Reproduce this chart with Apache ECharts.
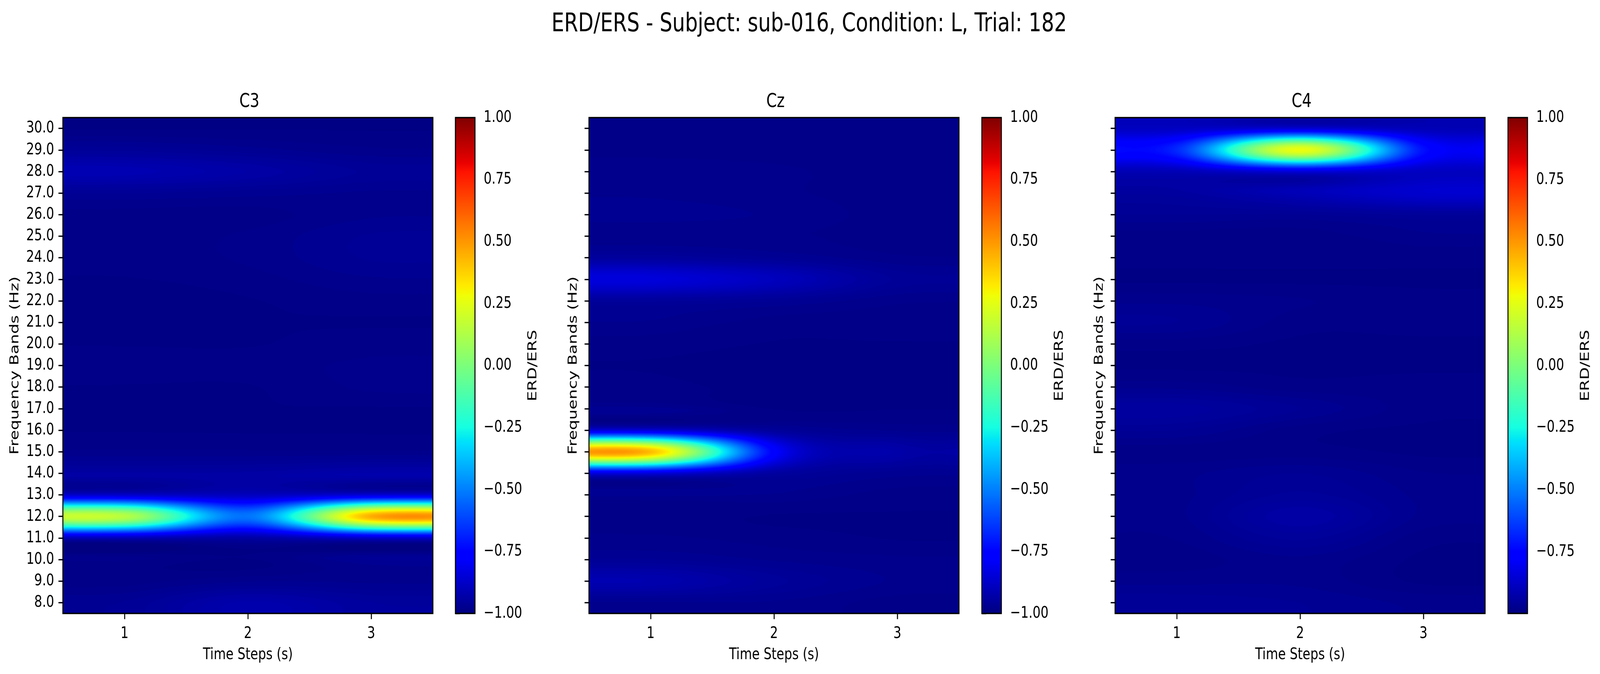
<!DOCTYPE html>
<html><head><meta charset="utf-8">
<style>html,body{margin:0;padding:0;background:#fff;overflow:hidden}#c{width:5319px;height:1725px;transform-origin:0 0}</style>
<script src="https://cdn.jsdelivr.net/npm/echarts@6/dist/echarts.min.js"></script>
</head><body><div id="c"></div>
<script>
// Values, indexed by frequency band (8 -> 30 Hz).
const timeSteps = [1, 2, 3];
const freqBands = [8,9,10,11,12,13,14,15,16,17,18,19,20,21,22,23,24,25,26,27,28,29,30];
const cbTicks = [-1,-0.75,-0.5,-0.25,0,0.25,0.5,0.75,1];
const cbTicksC4 = [-0.75,-0.5,-0.25,0,0.25,0.5,0.75,1];

const c3T1 = [-.96,-.98,-.975,-.9,.14,-.87,-.935,-.975,-.985,-.99,-.985,-.98,-.985,-.99,-.99,-.985,-.98,-.98,-.98,-.96,-.91,-.955,-.985];
const c3T2 = [-.92,-.97,-.985,-.93,-.52,-.89,-.935,-.975,-.985,-.985,-.985,-.98,-.985,-.985,-.985,-.98,-.975,-.975,-.98,-.965,-.93,-.965,-.985];
const c3T3 = [-.945,-.97,-.96,-.87,.45,-.85,-.92,-.975,-.985,-.985,-.975,-.975,-.98,-.985,-.98,-.97,-.96,-.96,-.97,-.97,-.955,-.975,-.985];

const czT1 = [-.97,-.915,-.96,-.975,-.98,-.965,-.84,.42,-.85,-.965,-.98,-.985,-.98,-.97,-.95,-.84,-.945,-.975,-.965,-.97,-.97,-.98,-.98];
const czT2 = [-.97,-.95,-.97,-.98,-.985,-.97,-.94,-.76,-.95,-.985,-.99,-.99,-.985,-.98,-.96,-.89,-.96,-.975,-.97,-.975,-.975,-.98,-.98];
const czT3 = [-.98,-.97,-.975,-.985,-.985,-.98,-.965,-.925,-.97,-.985,-.99,-.99,-.985,-.98,-.975,-.955,-.975,-.98,-.98,-.98,-.98,-.98,-.98];

const c4T1 = [-.955,-.97,-.98,-.975,-.97,-.97,-.97,-.98,-.96,-.94,-.97,-.985,-.98,-.96,-.97,-.985,-.98,-.98,-.96,-.94,-.9,-.67,-.88];
const c4T2 = [-.96,-.97,-.97,-.95,-.93,-.95,-.96,-.98,-.98,-.96,-.98,-.985,-.985,-.98,-.975,-.985,-.98,-.98,-.96,-.9,-.84,.27,-.85];
const c4T3 = [-.97,-.985,-.985,-.98,-.97,-.97,-.975,-.985,-.985,-.98,-.98,-.985,-.985,-.98,-.98,-.985,-.98,-.97,-.95,-.86,-.88,-.72,-.9];

const panels = [
  {name:'C3', rows:[c3T1,c3T2,c3T3], vmin:-1, ticks:cbTicks, left:209, cbLeft:1514, showY:true, yGap:138},
  {name:'Cz', rows:[czT1,czT2,czT3], vmin:-1, ticks:cbTicks, left:1958, cbLeft:3264, showY:false, yGap:31},
  {name:'C4', rows:[c4T1,c4T2,c4T3], vmin:-0.999, ticks:cbTicksC4, left:3707, cbLeft:5013, showY:false, yGap:31}
];

const FONT = 'DejaVu Sans';
const FS = 41.67, LW = 3.33, TL = 14.6, TOP = 301, H = 1269, W = 1230, CBW = 65;

// The browser window may be narrower than the reference: fit the full layout to it.
const host = document.getElementById('c');
host.style.transform = 'scaleX(' + (Math.min(window.innerWidth, 5319) / 5319) + ')';

// matplotlib "jet" breakpoints
const jetR=[[0,0],[.35,0],[.66,1],[.89,1],[1,.5]];
const jetG=[[0,0],[.125,0],[.375,1],[.64,1],[.91,0],[1,0]];
const jetB=[[0,.5],[.11,1],[.34,1],[.65,0],[1,0]];
function seg(s,t){for(let i=1;i<s.length;i++){if(t<=s[i][0]){const a=s[i-1],b=s[i];return a[1]+(b[1]-a[1])*(t-a[0])/(b[0]-a[0]);}}return s[s.length-1][1];}
const LUT=[];for(let i=0;i<256;i++){const t=i/255;LUT.push([Math.round(seg(jetR,t)*255),Math.round(seg(jetG,t)*255),Math.round(seg(jetB,t)*255)]);}

// Display-time bicubic resampling of the cell values (what imshow does when it draws).
function kern(x){x=Math.abs(x);if(x<1)return 1.5*x*x*x-2.5*x*x+1;if(x<2)return -.5*x*x*x+2.5*x*x-4*x+2;return 0;}
function sample(rows,u,v){
  const iu=Math.floor(u),iv=Math.floor(v);let s=0;
  for(let a=-1;a<=2;a++){const tu=Math.min(rows.length-1,Math.max(0,iu+a)),wu=kern(u-(iu+a));if(!wu)continue;
    for(let b=-1;b<=2;b++){const fv=Math.min(freqBands.length-1,Math.max(0,iv+b)),wv=kern(v-(iv+b));if(!wv)continue;s+=wu*wv*rows[tu][fv];}}
  return s;
}
function cellRender(p){
  return function(params,api){
    const t=api.value(0),f=api.value(1);
    const a=api.coord([t-.5,f+.5]),b=api.coord([t+.5,f-.5]);
    const x0=Math.round(a[0]),y0=Math.round(a[1]),x1=Math.round(b[0]),y1=Math.round(b[1]);
    const c=document.createElement('canvas');c.width=x1-x0;c.height=y1-y0;
    const g=c.getContext('2d'),img=g.createImageData(c.width,c.height),d=img.data;
    const sx=(b[0]-a[0]),sy=(b[1]-a[1]);
    let k=0;
    for(let py=0;py<c.height;py++){
      const fv=(f-freqBands[0])+0.5-(py+.5+(y0-a[1]))/sy;
      for(let px=0;px<c.width;px++){
        const tu=(t-timeSteps[0])-0.5+(px+.5+(x0-a[0]))/sx;
        const val=sample(p.rows,tu,fv);
        let n=(val-p.vmin)/(1-p.vmin);n=Math.max(0,Math.min(1,n));
        const col=LUT[Math.min(255,Math.floor(n*256))];
        d[k++]=col[0];d[k++]=col[1];d[k++]=col[2];d[k++]=255;
      }
    }
    g.putImageData(img,0,0);
    return {type:'image',silent:true,style:{image:c,x:x0,y:y0,width:c.width,height:c.height}};
  };
}
function frameRender(params){
  const c=params.coordSys;
  return {type:'rect',silent:true,shape:{x:c.x,y:c.y,width:c.width,height:c.height},
    style:{fill:'none',stroke:'#000',lineWidth:LW}};
}
function cbRender(p){
  return function(params){
    const c=params.coordSys,st=[];
    const all=[...new Set([...jetR,...jetG,...jetB].map(s=>s[0]))].sort((a,b)=>a-b);
    all.forEach(t=>st.push({offset:t,color:`rgb(${Math.round(seg(jetR,t)*255)},${Math.round(seg(jetG,t)*255)},${Math.round(seg(jetB,t)*255)})`}));
    return {type:'rect',silent:true,shape:{x:c.x,y:c.y,width:c.width,height:c.height},
      style:{fill:new echarts.graphic.LinearGradient(0,1,0,0,st)}};
  };
}
const tickLine={show:true,length:TL,lineStyle:{color:'#000',width:LW}};
const txt={color:'#000',fontFamily:FONT,fontSize:FS};
const fmtMinus=v=>v.toFixed(2).replace('-','\u2212');

const grid=[],xAxis=[],yAxis=[],series=[],title=[];
title.push({text:'ERD/ERS - Subject: sub-016, Condition: L, Trial: 182',left:2685,top:24,textAlign:'center',
  textStyle:{color:'#000',fontFamily:FONT,fontSize:66.67,fontWeight:'normal'}});
panels.forEach((p,i)=>{
  title.push({text:p.name,left:p.left+W/2,top:231,textAlign:'center',
    textStyle:{color:'#000',fontFamily:FONT,fontSize:50,fontWeight:'normal'}});
  const gi=grid.length;
  grid.push({left:p.left,top:TOP,width:W,height:H,containLabel:false,outerBoundsMode:'none'});
  xAxis.push({gridIndex:gi,type:'value',min:.5,max:3.5,splitLine:{show:false},axisLine:{show:false},
    axisTick:{...tickLine,customValues:timeSteps},
    axisLabel:{...txt,margin:31,customValues:timeSteps,formatter:v=>String(v),hideOverlap:false},
    name:'Time Steps (s)',nameLocation:'middle',nameGap:85,nameTextStyle:txt});
  yAxis.push({gridIndex:gi,type:'value',min:7.5,max:30.5,splitLine:{show:false},axisLine:{show:false},
    axisTick:{...tickLine,customValues:freqBands},
    axisLabel:{...txt,show:p.showY,margin:29,customValues:freqBands,formatter:v=>v.toFixed(1),hideOverlap:false},
    name:'Frequency Bands (Hz)',nameLocation:'middle',nameGap:p.yGap,nameRotate:90,nameTextStyle:txt});
  const data=[];
  timeSteps.forEach((t,ti)=>freqBands.forEach((f,fi)=>data.push([t,f,p.rows[ti][fi]])));
  series.push({type:'custom',name:p.name,xAxisIndex:gi,yAxisIndex:gi,renderItem:cellRender(p),data,
    encode:{x:0,y:1},clip:true,animation:false,silent:true,z:2});
  series.push({type:'custom',xAxisIndex:gi,yAxisIndex:gi,renderItem:frameRender,data:[[1,8]],
    encode:{x:0,y:1},clip:false,animation:false,silent:true,z:3});
  const ci=grid.length;
  grid.push({left:p.cbLeft,top:TOP,width:CBW,height:H,containLabel:false,outerBoundsMode:'none'});
  xAxis.push({gridIndex:ci,type:'value',min:0,max:1,show:false});
  yAxis.push({gridIndex:ci,type:'value',position:'right',min:p.vmin,max:1,splitLine:{show:false},axisLine:{show:false},
    axisTick:{...tickLine,customValues:p.ticks},
    axisLabel:{...txt,margin:29,customValues:p.ticks,formatter:fmtMinus,hideOverlap:false},
    name:'ERD/ERS',nameLocation:'middle',nameGap:172,nameRotate:90,nameTextStyle:txt});
  series.push({type:'custom',xAxisIndex:ci,yAxisIndex:ci,renderItem:cbRender(p),data:[[0,0]],
    encode:{x:0,y:1},clip:false,animation:false,silent:true,z:2});
  series.push({type:'custom',xAxisIndex:ci,yAxisIndex:ci,renderItem:frameRender,data:[[0,0]],
    encode:{x:0,y:1},clip:false,animation:false,silent:true,z:3});
});
const chart=echarts.init(host,null,{renderer:'canvas',devicePixelRatio:1,width:5319,height:1725});
chart.setOption({animation:false,backgroundColor:'#fff',title,grid,xAxis,yAxis,series});
</script></body></html>
